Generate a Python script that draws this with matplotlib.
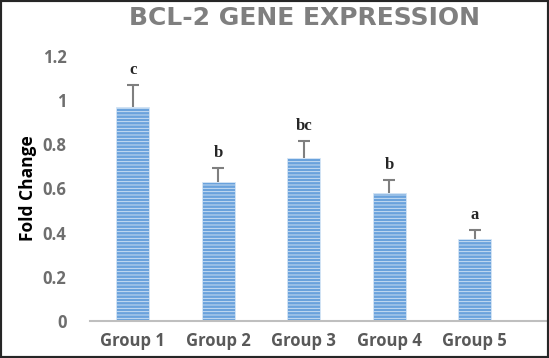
import matplotlib
matplotlib.use("Agg")
import matplotlib.pyplot as plt
from matplotlib.patches import Rectangle

categories = ["Group 1", "Group 2", "Group 3", "Group 4", "Group 5"]
values = [0.97, 0.63, 0.74, 0.58, 0.37]
errors = [0.10, 0.065, 0.077, 0.06, 0.04]
letters = ["c", "b", "bc", "b", "a"]
yticks = [0, 0.2, 0.4, 0.6, 0.8, 1.0, 1.2]
ytick_labels = ["0", "0.2", "0.4", "0.6", "0.8", "1", "1.2"]

plt.rcParams['hatch.linewidth'] = 0.6
fig = plt.figure(figsize=(5.49, 3.58), dpi=100)
ax = fig.add_axes([0.164, 0.1034, 0.836, 0.7402])

x = list(range(len(categories)))
ax.bar(x, values, width=0.39, color="#6aa2dc", edgecolor="#d6e6f6",
       hatch="-----", linewidth=0.6, zorder=2)
eb = ax.errorbar(x, values, yerr=[[0]*len(values), errors], fmt="none",
                 ecolor="#7f7f7f", elinewidth=1.5, capsize=4, capthick=1.5, zorder=3)
caps = eb[1]
if len(caps) == 2:
    caps[0].set_visible(False)
for xi, v, e, l in zip(x, values, errors, letters):
    ax.annotate(l, (xi, v + e), xytext=(0, 5), textcoords="offset points",
                ha="center", va="bottom", fontsize=12, fontweight="bold",
                family="Liberation Serif", color="#262626", annotation_clip=False)

ax.set_xlim(-0.5, 4.87)
ax.set_ylim(0, 1.2)
ax.set_xticks(x)
ax.set_xticklabels(categories, fontsize=12, fontweight="bold", color="#595959",
                   family="Open Sans")
ax.set_yticks(yticks)
ax.set_yticklabels(ytick_labels, fontsize=12, fontweight="bold", color="#6e6e6e",
                   family="Open Sans")
ax.tick_params(axis="both", length=0)
ax.tick_params(axis="x", pad=8)
ax.tick_params(axis="y", pad=17)
for s in ["top", "right", "left"]:
    ax.spines[s].set_visible(False)
ax.spines["bottom"].set_color("#bfbfbf")
ax.spines["bottom"].set_linewidth(1.5)

ax.set_ylabel("Fold Change", fontsize=12.5, fontweight="bold", color="black",
              family="Open Sans", labelpad=4)

fig.text(0.555, 0.95, "BCL-2 GENE EXPRESSION", ha="center", va="center",
         fontsize=18, fontweight="bold", color="#7f7f7f", family="DejaVu Sans")

fig.patches.append(Rectangle((0, 0), 1, 1, transform=fig.transFigure,
                             fill=False, edgecolor="#262626", linewidth=3))

fig.savefig("out.png", dpi=100)
